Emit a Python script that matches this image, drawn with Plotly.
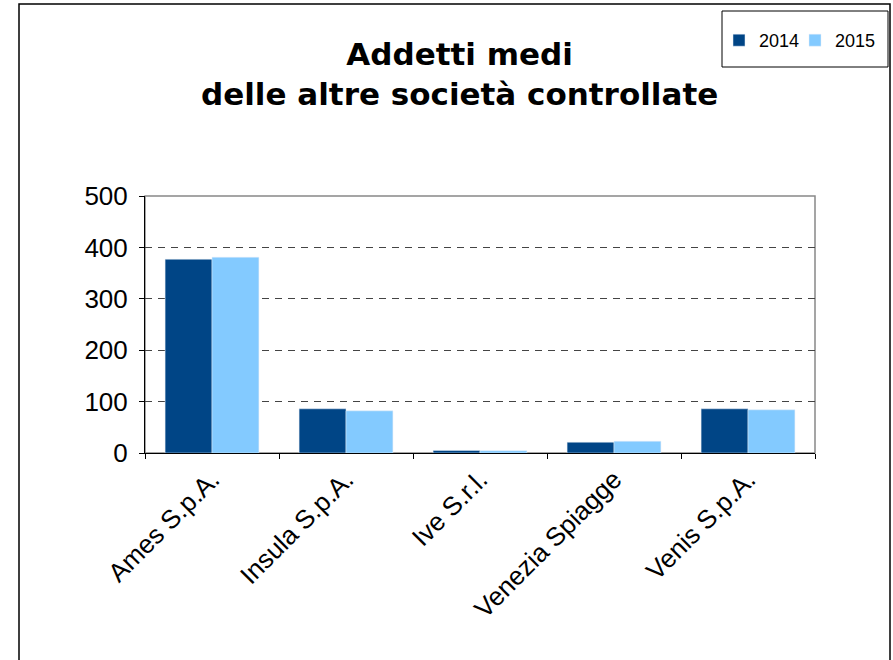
import plotly.graph_objects as go

# dati
societa = ["Ames S.p.A.", "Insula S.p.A.", "Ive S.r.l.", "Venezia Spiagge", "Venis S.p.A."]
addetti_2014 = [377, 86, 5, 21, 86]
addetti_2015 = [381, 82, 4.5, 23, 84]
y_ticks = [0, 100, 200, 300, 400, 500]

fig = go.Figure()
fig.add_trace(go.Bar(x=societa, y=addetti_2014, name="2014", marker_color="#004586", legend="legend"))
fig.add_trace(go.Bar(x=societa, y=addetti_2015, name="2015", marker_color="#83CAFF", legend="legend2"))

W, H = 893, 660
L, R, T, B = 145, 78, 196, 207
pw, ph = W - L - R, H - T - B

def px_x(x):
    return (x - L) / pw

def px_y(y):
    return (H - B - y) / ph

leg = dict(orientation="h", y=px_y(22), xanchor="left", yanchor="top",
           font=dict(size=18), borderwidth=0, bgcolor="rgba(0,0,0,0)", itemwidth=30)

fig.update_layout(
    width=W, height=H,
    margin=dict(l=L, r=R, t=T, b=B, autoexpand=False),
    paper_bgcolor="white", plot_bgcolor="white",
    barmode="group", bargap=0.3, bargroupgap=0,
    font=dict(family="Liberation Sans, Arial", color="black"),
    showlegend=True,
    legend=dict(leg, x=px_x(719)),
    legend2=dict(leg, x=px_x(795)),
)

fig.update_yaxes(range=[0, 500], tickvals=y_ticks, showgrid=True, gridcolor="#444",
                 griddash="7px,6px", gridwidth=1, showline=True, linecolor="black", linewidth=1,
                 ticks="outside", ticklen=5, tickcolor="black", tickfont=dict(size=26),
                 ticklabelstandoff=6, zeroline=False, fixedrange=True)
fig.update_xaxes(showline=True, linecolor="black", linewidth=1, ticks="outside",
                 tickson="boundaries", ticklen=5, tickcolor="black", tickangle=-45,
                 tickfont=dict(size=26), fixedrange=True)

# titolo
fig.add_annotation(text="<b>Addetti medi<br>delle altre società controllate</b>",
                   xref="paper", yref="paper", x=px_x(459), y=px_y(74),
                   xanchor="center", yanchor="middle", showarrow=False,
                   font=dict(family="DejaVu Sans", size=31, color="black"))

# cornici
fig.add_shape(type="rect", xref="paper", yref="paper", x0=px_x(19), x1=px_x(890),
              y0=px_y(670), y1=px_y(4), line=dict(color="black", width=1.5), layer="below")
fig.add_shape(type="rect", xref="paper", yref="paper", x0=px_x(722), x1=px_x(888),
              y0=px_y(67), y1=px_y(11), line=dict(color="black", width=1))
fig.add_shape(type="rect", xref="paper", yref="paper", x0=0, x1=1, y0=0, y1=1,
              line=dict(color="#888", width=1.5), layer="below")

fig.write_html("out.html", config={"displayModeBar": False},
               post_script="document.body.style.margin='0';")
